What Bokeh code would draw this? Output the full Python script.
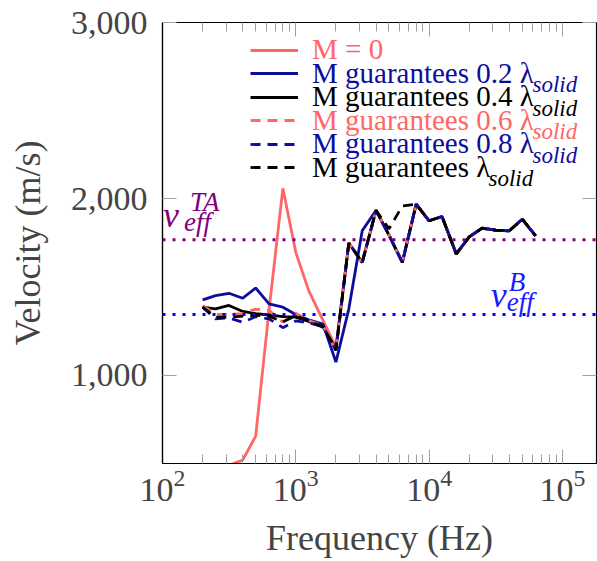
from bokeh.plotting import figure
from bokeh.models import (Legend, LegendItem, Label, Span, LinearAxis, LogAxis,
                          FixedTicker, NumeralTickFormatter, CustomJSTickFormatter, Range1d)
from bokeh.embed import file_html
from bokeh.resources import INLINE

# ---------------- data ----------------
freq = [200, 250, 315, 400, 500, 630, 800, 1000, 1250, 1600, 2000, 2500, 3150,
        4000, 5000, 6300, 8000, 10000, 12500, 16000, 20000, 25000, 31500, 40000,
        50000, 63000]
v_m0 = [470, 480, 490, 520, 655, 1370, 2060, 1697, 1480, 1311, 1160, 1750, 1640,
        1935, 1795, 1640, 1970, 1876, 1900, 1688, 1785, 1834, 1823, 1819, 1885, 1791]
v_02 = [1428, 1452, 1465, 1437, 1495, 1405, 1386, 1345, 1315, 1290, 1075, 1377, 1819,
        1935, 1795, 1640, 1970, 1876, 1900, 1688, 1785, 1834, 1823, 1819, 1885, 1791]
v_04 = [1386, 1377, 1396, 1362, 1349, 1343, 1333, 1330, 1305, 1273, 1150, 1750, 1640,
        1935, 1795, 1640, 1970, 1876, 1900, 1688, 1785, 1834, 1823, 1819, 1885, 1791]
v_06 = [1395, 1345, 1345, 1350, 1375, 1368, 1301, 1352, 1311, 1280, 1141, 1750, 1640,
        1935, 1795, 1640, 1970, 1876, 1900, 1688, 1785, 1834, 1823, 1819, 1885, 1791]
v_08 = [1386, 1320, 1325, 1301, 1332, 1320, 1270, 1308, 1298, 1276, 1141, 1750, 1640,
        1935, 1795, 1640, 1970, 1876, 1900, 1688, 1785, 1834, 1823, 1819, 1885, 1791]
v_10 = [1386, 1330, 1330, 1335, 1340, 1335, 1303, 1338, 1306, 1276, 1141, 1750, 1640,
        1935, 1830, 1960, 1970, 1876, 1900, 1688, 1785, 1834, 1823, 1819, 1885, 1791]
V_TA = 1768
V_B = 1345

labels = ["M = 0", "M guarantees 0.2 λ", "M guarantees 0.4 λ",
          "M guarantees 0.6 λ", "M guarantees 0.8 λ", "M guarantees λ"]
sub_label = "solid"
x_major = [1e2, 1e3, 1e4, 1e5]
y_major = [1000, 2000, 3000]

# ---------------- style ----------------
RED = "#ff6666"
BLUE = "#0d0d9c"
BLACK = "#000000"
PURPLE = "#800080"
BRIGHT_BLUE = "#1a1aff"
FONT = "Liberation Serif"
TICK_GRAY = "#a0a0a0"

p = figure(width=597, height=561, x_axis_type="log",
           x_range=Range1d(100, 180300), y_range=Range1d(500, 3000),
           output_backend="svg", toolbar_location=None,
           min_border_left=162, min_border_right=1, min_border_top=22,
           min_border_bottom=98)
p.grid.visible = False
p.outline_line_color = "black"
p.outline_line_width = 1.2
p.background_fill_color = "white"
p.border_fill_color = "white"

minor = [m * 10 ** k for k in range(2, 6) for m in range(2, 10)]
xt = FixedTicker(ticks=x_major, minor_ticks=minor)
yt = FixedTicker(ticks=y_major, minor_ticks=[])

xa = p.xaxis[0]
xa.ticker = xt
xa.axis_label = "Frequency (Hz)"
ya = p.yaxis[0]
ya.ticker = yt
ya.formatter = NumeralTickFormatter(format="0,0")
ya.axis_label = "Velocity (m/s)"

for ax in (xa, ya):
    ax.axis_label_text_font = FONT
    ax.axis_label_text_font_size = "36px"
    ax.axis_label_text_font_style = "normal"
    ax.major_label_text_font = FONT
    ax.major_label_text_font_size = "34px"
    ax.major_tick_in = 14
    ax.major_tick_out = 0
    ax.minor_tick_in = 9
    ax.minor_tick_out = 0
    ax.major_tick_line_color = TICK_GRAY
    ax.minor_tick_line_color = TICK_GRAY
    ax.axis_line_color = "black"
    ax.axis_line_width = 1.2
xa.major_label_standoff = 6
xa.axis_label_standoff = 14
ya.major_label_standoff = 15
ya.axis_label_standoff = 20

top = LogAxis(ticker=xt, formatter=CustomJSTickFormatter(code="return ''"),
              major_label_text_font_size="0px", major_label_standoff=0,
              major_tick_in=14, major_tick_out=0, minor_tick_in=9, minor_tick_out=0,
              major_tick_line_color=TICK_GRAY, minor_tick_line_color=TICK_GRAY,
              axis_line_color=None)
right = LinearAxis(ticker=yt, formatter=CustomJSTickFormatter(code="return ''"),
                   major_label_text_font_size="0px", major_label_standoff=0,
                   major_tick_in=14, major_tick_out=0, minor_tick_in=0, minor_tick_out=0,
                   major_tick_line_color=TICK_GRAY, axis_line_color=None)
p.add_layout(top, "above")
p.add_layout(right, "right")

# reference lines
p.add_layout(Span(location=V_TA, dimension="width", line_color=PURPLE,
                  line_dash="3 7", line_width=3))
p.add_layout(Span(location=V_B, dimension="width", line_color="#0000ff",
                  line_dash="3 7", line_width=3))

LW = 2.8
DASH = "10 7"
r0 = p.line(freq, v_m0, line_color=RED, line_width=LW)
r1 = p.line(freq, v_02, line_color=BLUE, line_width=LW)
r2 = p.line(freq, v_04, line_color=BLACK, line_width=LW)
r3 = p.line(freq, v_06, line_color=RED, line_width=LW, line_dash=DASH)
r4 = p.line(freq, v_08, line_color=BLUE, line_width=LW, line_dash=DASH)
r5 = p.line(freq, v_10, line_color=BLACK, line_width=LW, line_dash=DASH)

# legend: one per entry so each label keeps its series colour
renderers = [r0, r1, r2, r3, r4, r5]
colors = [RED, BLUE, BLACK, RED, BLUE, BLACK]
ROW = 23.5
Y0 = 396.5
LEG_X = 88
sub_x = [None, 370, 370, 370, 370, 326]
for i, (r, lab, col) in enumerate(zip(renderers, labels, colors)):
    leg = Legend(items=[LegendItem(label=lab, renderers=[r])],
                 location=(LEG_X, Y0 - i * ROW), orientation="vertical",
                 margin=0, padding=0, spacing=0, glyph_width=48, glyph_height=34,
                 label_height=34, label_standoff=14, label_text_font=FONT,
                 label_text_font_size="29px", label_text_color=col,
                 border_line_color=None, background_fill_alpha=0)
    p.add_layout(leg)
    if sub_x[i] is not None:
        yc = Y0 - i * ROW + 17  # row centre, from frame bottom
        p.add_layout(Label(x=sub_x[i], y=yc - 11, x_units="screen", y_units="screen",
                           text=sub_label, text_font=FONT, text_font_style="italic",
                           text_font_size="23px", text_color=col,
                           text_baseline="alphabetic"))

# v_eff labels
def veff(x, y, sup, color, dx_sup, dx_sub, y_base):
    p.add_layout(Label(x=x, y=y, x_offset=0, y_offset=y_base, text="v",
                       text_font=FONT, text_font_style="italic", text_font_size="36px",
                       text_color=color, text_baseline="alphabetic"))
    p.add_layout(Label(x=x, y=y, x_offset=dx_sup, y_offset=y_base + 13, text=sup,
                       text_font=FONT, text_font_style="italic", text_font_size="27px",
                       text_color=color, text_baseline="alphabetic"))
    p.add_layout(Label(x=x, y=y, x_offset=dx_sub, y_offset=y_base - 7, text="eff",
                       text_font=FONT, text_font_style="italic", text_font_size="27px",
                       text_color=color, text_baseline="alphabetic"))

veff(101, V_TA, "TA", PURPLE, 27, 21, 25)
veff(29000, V_B, "B", BRIGHT_BLUE, 18, 16, 19)

open("out.html", "w").write(file_html(p, INLINE))
